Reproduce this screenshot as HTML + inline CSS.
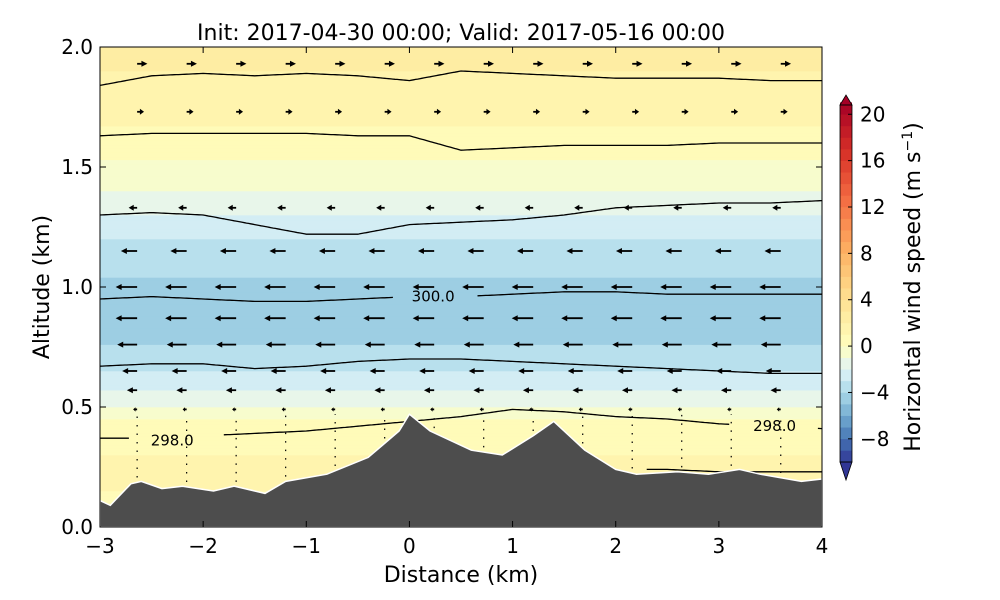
<!DOCTYPE html>
<html><head><meta charset="utf-8"><style>
body{margin:0;background:#fff;}
svg{display:block;font-family:"DejaVu Sans","Liberation Sans",sans-serif;}
</style></head><body>
<svg id="fig" width="1000" height="600" xmlns="http://www.w3.org/2000/svg">
<g id="plot"></g>
<g id="axes"></g>
<g id="cbar"></g>
</svg>
<script>
// ---- data ----
const profAlt = [0.0, 0.15, 0.25, 0.35, 0.45, 0.5, 0.6, 0.7, 0.8, 1.0, 1.1, 1.2, 1.3, 1.4, 1.5, 1.6, 1.8, 2.0];
const profU   = [0.8, 1.0, 1.5, 0.5, 0.0, -1.0, -2.5, -3.5, -4.3, -4.3, -3.5, -3.0, -2.0, -1.0, -0.3, 0.6, 1.8, 2.2];
const terrainX = [-3,-2.9,-2.7,-2.6,-2.4,-2.2,-1.9,-1.7,-1.4,-1.2,-0.8,-0.4,-0.1,0,0.2,0.6,0.9,1.2,1.4,1.7,2.0,2.2,2.6,2.9,3.2,3.4,3.8,4.0];
const terrainH = [0.11,0.09,0.18,0.19,0.16,0.17,0.15,0.17,0.14,0.19,0.22,0.29,0.40,0.47,0.40,0.32,0.30,0.38,0.44,0.32,0.24,0.22,0.23,0.22,0.24,0.22,0.19,0.20];
const lineX = [-3,-2.5,-2,-1.5,-1,-0.5,0,0.5,1,1.5,2,2.5,3,3.5,4];
const theta1 = [1.84,1.88,1.89,1.88,1.89,1.88,1.86,1.90,1.89,1.88,1.87,1.87,1.87,1.86,1.86];
const theta2 = [1.63,1.64,1.64,1.64,1.64,1.63,1.63,1.57,1.58,1.59,1.59,1.59,1.60,1.60,1.60];
const theta3 = [1.30,1.31,1.30,1.26,1.22,1.22,1.26,1.27,1.28,1.30,1.33,1.34,1.35,1.35,1.36];
const theta4 = [0.95,0.96,0.95,0.94,0.94,0.95,0.96,0.96,0.97,0.98,0.98,0.97,0.97,0.97,0.97];
const theta5 = [0.67,0.68,0.68,0.66,0.67,0.69,0.70,0.70,0.69,0.68,0.67,0.66,0.65,0.64,0.64];
const theta6 = [0.37,0.37,0.38,0.39,0.40,0.42,0.44,0.46,0.49,0.48,0.46,0.45,0.43,0.42,0.41];
const theta7X = [2.3,2.5,3.0,3.5,4.0];
const theta7 = [0.24,0.24,0.23,0.23,0.23];
const arrowCols = [-2.64,-2.16,-1.68,-1.2,-0.72,-0.24,0.24,0.72,1.2,1.68,2.16,2.64,3.12,3.6];
const arrowRows = [1.93,1.73,1.52,1.33,1.15,1.0,0.87,0.76,0.65,0.57,0.49];
const xTicks = [-3,-2,-1,0,1,2,3,4];
const yTicks = [0.0,0.5,1.0,1.5,2.0];
const cbTicks = [-8,-4,0,4,8,12,16,20];

// ---- scales ----
const X0=100,X1=822,Y0=527,Y1=47;
const sx = v => X0 + (v+3)/7*(X1-X0);
const sy = v => Y0 - v/2*(Y0-Y1);
const cbTop=105,cbBot=462,cbMin=-10,cbMax=20.8;
const cy = v => cbBot - (v-cbMin)/(cbMax-cbMin)*(cbBot-cbTop);
const NS="http://www.w3.org/2000/svg";
function mk(tag,attrs,parent){const e=document.createElementNS(NS,tag);for(const k in attrs)e.setAttribute(k,attrs[k]);parent.appendChild(e);return e;}
function interp(xs,ys,x){if(x<=xs[0])return ys[0];for(let i=1;i<xs.length;i++){if(x<=xs[i]){const t=(x-xs[i-1])/(xs[i]-xs[i-1]);return ys[i-1]+t*(ys[i]-ys[i-1]);}}return ys[ys.length-1];}
const cmapStops=[[49,54,149],[69,117,180],[116,173,209],[171,217,233],[224,243,248],[255,255,191],[254,224,144],[253,174,97],[244,109,67],[215,48,39],[165,0,38]];
function cmap(t){t=Math.max(0,Math.min(1,t));const p=t*(cmapStops.length-1);const i=Math.min(Math.floor(p),cmapStops.length-2);const f=p-i;const a=cmapStops[i],b=cmapStops[i+1];return `rgb(${Math.round(a[0]+f*(b[0]-a[0]))},${Math.round(a[1]+f*(b[1]-a[1]))},${Math.round(a[2]+f*(b[2]-a[2]))})`;}
function norm(u){return u<0?0.5+u/20:0.5+u/42;}
function ucol(u){const q=Math.floor(u)+0.5;return cmap(norm(q));}

const plot=document.getElementById('plot');
for(let a=0;a<2.0;a+=0.01){
  const u=interp(profAlt,profU,a+0.005);
  const r=mk('rect',{x:X0,y:sy(a+0.01)-0.3,width:X1-X0,height:(Y0-Y1)*0.005+0.6,fill:ucol(u)},plot);
  
  
}
arrowCols.forEach(c=>{
  const h=interp(terrainX,terrainH,c);
  const d=mk('line',{x1:sx(c),x2:sx(c),y1:sy(h+0.02),y2:sy(0.47),stroke:'#000','stroke-width':1.2,'stroke-dasharray':'1.5 7'},plot);
  
  
});
arrowRows.forEach(r=>{
  arrowCols.forEach(c=>{
    const h=interp(terrainX,terrainH,c);
    if(r<h+0.03)return;
    const u=interp(profAlt,profU,r);
    const len=u*5;
    if(Math.abs(len)<2.5)return;
    const x=sx(c),y=sy(r);
    const x2=x+len, dir=Math.sign(len);
    const hl=Math.min(6,Math.abs(len)*0.6), hw=Math.min(3,Math.abs(len)*0.3+1);
    const g=mk('g',{},plot);
    
    
    mk('line',{x1:x,y1:y,x2:x2-dir*hl*0.8,y2:y,stroke:'#000','stroke-width':1.8},g);
    mk('polygon',{points:`${x2},${y} ${x2-dir*hl},${y-hw} ${x2-dir*hl},${y+hw}`,fill:'#000'},g);
  });
});
function drawLine(xs,ys,name,gaps){
  let segs=[[]];
  for(let v=xs[0];v<=xs[xs.length-1]+1e-9;v+=0.02){
    const inGap=gaps.some(g=>v>g[0]&&v<g[1]);
    if(inGap){if(segs[segs.length-1].length)segs.push([]);continue;}
    segs[segs.length-1].push(`${sx(v).toFixed(1)},${sy(interp(xs,ys,v)).toFixed(1)}`);
  }
  segs.forEach(s=>{if(s.length<2)return;
    const p=mk('polyline',{points:s.join(' '),fill:'none',stroke:'#000','stroke-width':1.3},plot);
    
    
  });
}
drawLine(lineX,theta1,'theta-contour-1',[]);
drawLine(lineX,theta2,'theta-contour-2',[]);
drawLine(lineX,theta3,'theta-contour-3',[]);
drawLine(lineX,theta4,'theta-contour-300',[[-0.15,0.65]]);
drawLine(lineX,theta5,'theta-contour-5',[]);
drawLine(lineX,theta6,'theta-contour-298',[[-2.7,-1.8],[3.12,3.95]]);
drawLine(theta7X,theta7,'theta-contour-7',[]);
[[0.23,0.96,'300.0'],[-2.3,0.36,'298.0'],[3.54,0.42,'298.0']].forEach(l=>{
  const t=mk('text',{x:sx(l[0]),y:sy(l[1])+5,'font-size':15,'text-anchor':'middle',fill:'#000'},plot);
  t.textContent=l[2];
  
  
});
let tp=`${sx(-3)},${sy(0)} `+terrainX.map((x,i)=>`${sx(x).toFixed(1)},${sy(terrainH[i]).toFixed(1)}`).join(' ')+` ${sx(4)},${sy(0)}`;
const ter=mk('polygon',{points:tp,fill:'#4d4d4d',stroke:'#fff','stroke-width':1.5},plot);



const ax=document.getElementById('axes');
const frame=mk('rect',{x:X0,y:Y1,width:X1-X0,height:Y0-Y1,fill:'none',stroke:'#000','stroke-width':1},ax);


xTicks.forEach(v=>{
  mk('line',{x1:sx(v),x2:sx(v),y1:Y0,y2:Y0-6,stroke:'#000'},ax);
  mk('line',{x1:sx(v),x2:sx(v),y1:Y1,y2:Y1+6,stroke:'#000'},ax);
  const t=mk('text',{x:sx(v),y:Y0+26,'font-size':20,'text-anchor':'middle'},ax);
  t.textContent=v<0?'\u2212'+(-v):String(v);
  
  
});
yTicks.forEach(v=>{
  mk('line',{x1:X0,x2:X0+6,y1:sy(v),y2:sy(v),stroke:'#000'},ax);
  mk('line',{x1:X1,x2:X1-6,y1:sy(v),y2:sy(v),stroke:'#000'},ax);
  const t=mk('text',{x:X0-7,y:sy(v)+7,'font-size':20,'text-anchor':'end'},ax);
  t.textContent=v.toFixed(1);
  
  
});
let t=mk('text',{x:461,y:582,'font-size':22,'text-anchor':'middle'},ax);t.textContent='Distance (km)';


t=mk('text',{x:0,y:0,'font-size':22,'text-anchor':'middle',transform:`translate(49,287) rotate(-90)`},ax);t.textContent='Altitude (km)';


t=mk('text',{x:461,y:40,'font-size':22,'text-anchor':'middle'},ax);t.textContent='Init: 2017-04-30 00:00; Valid: 2017-05-16 00:00';



const cb=document.getElementById('cbar');
const CX0=840,CX1=852;
for(let v=cbMin;v<21;v+=1){
  const r=mk('rect',{x:CX0,y:cy(v+1)-0.3,width:CX1-CX0,height:cy(v)-cy(v+1)+0.6,fill:cmap(norm(v+0.5))},cb);
  
  
}
const tri1=mk('polygon',{points:`${CX0},${cbTop} ${CX1},${cbTop} ${(CX0+CX1)/2},95`,fill:cmap(1),stroke:'#000','stroke-width':0.8},cb);


const tri2=mk('polygon',{points:`${CX0},${cbBot} ${CX1},${cbBot} ${(CX0+CX1)/2},480`,fill:cmap(0),stroke:'#000','stroke-width':0.8},cb);


mk('rect',{x:CX0,y:cbTop,width:CX1-CX0,height:cbBot-cbTop,fill:'none',stroke:'#000','stroke-width':0.8},cb);
cbTicks.forEach(v=>{
  mk('line',{x1:CX1-4,x2:CX1,y1:cy(v),y2:cy(v),stroke:'#000'},cb);
  const tt=mk('text',{x:CX1+8,y:cy(v)+7,'font-size':20},cb);
  tt.textContent=v<0?'\u2212'+(-v):String(v);
  
  
});
t=mk('text',{x:0,y:0,'font-size':22,'text-anchor':'middle',transform:'translate(920,287) rotate(-90)'},cb);
t.innerHTML='Horizontal wind speed (m s<tspan dy="-8" font-size="14">\u22121</tspan><tspan dy="8">)</tspan>';


</script>
</body></html>
